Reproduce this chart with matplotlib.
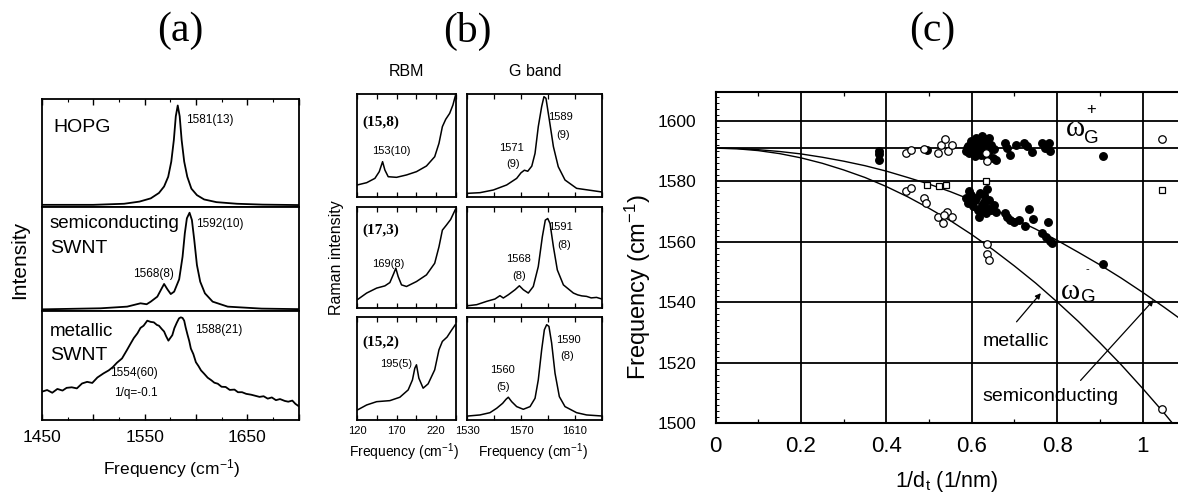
import matplotlib
matplotlib.use('Agg')
import matplotlib.pyplot as plt
from matplotlib import font_manager
from matplotlib.ticker import FixedLocator, MultipleLocator

W, H = 1178, 492
plt.rcParams['font.family'] = ['Liberation Sans', 'DejaVu Sans']
plt.rcParams['mathtext.fontset'] = 'custom'
plt.rcParams['mathtext.rm'] = 'Liberation Sans'
plt.rcParams['mathtext.it'] = 'Liberation Sans:italic'
plt.rcParams['mathtext.bf'] = 'Liberation Sans:bold'

_names = {f.name for f in font_manager.fontManager.ttflist}
NARROW = 'Liberation Sans Narrow' if 'Liberation Sans Narrow' in _names else 'Liberation Sans'
SERIF = 'Liberation Serif'

# ---------------- data: panel (a) ----------------
hopg_freq = [1450, 1500, 1530, 1545, 1556, 1564, 1569, 1573, 1576, 1578.5, 1580.4, 1582.3,
             1584.2, 1586.1, 1588.6, 1591.6, 1595.6, 1601, 1608, 1620, 1640, 1665, 1700]
hopg_int = [0.02, 0.02, 0.03, 0.05, 0.08, 0.13, 0.19, 0.28, 0.42, 0.62, 0.84, 0.94,
            0.84, 0.62, 0.42, 0.28, 0.17, 0.11, 0.07, 0.045, 0.03, 0.022, 0.018]

semi_freq = [1450, 1507, 1533, 1546, 1552, 1556, 1562.4, 1566.7, 1569, 1572.2, 1575.5, 1578.8,
             1583.7, 1587, 1589.2, 1591.2, 1593.8, 1596.1, 1598.4, 1601, 1604.2, 1608.8,
             1616.3, 1631, 1664, 1700]
semi_int = [0.016, 0.026, 0.042, 0.074, 0.065, 0.09, 0.138, 0.218, 0.26, 0.209, 0.163, 0.186,
            0.305, 0.522, 0.747, 0.891, 0.945, 0.875, 0.683, 0.442, 0.282, 0.17,
            0.09, 0.042, 0.023, 0.018]

metal_freq = [1450, 1455, 1460, 1465, 1470, 1474, 1479, 1484, 1489, 1494, 1499, 1504, 1510,
              1515, 1519, 1523, 1528, 1533, 1536, 1539.5, 1543, 1546, 1549, 1552.6, 1556,
              1559, 1562, 1564, 1567, 1569, 1571, 1573.2, 1575, 1577, 1579, 1581.4, 1583.5,
              1585.3, 1587, 1588.6, 1590, 1591.9, 1593.5, 1595.1, 1597.5, 1600, 1602.5, 1605,
              1608, 1611.5, 1615, 1618, 1621.3, 1625, 1629, 1633, 1637.6, 1641, 1645, 1649,
              1653.9, 1658, 1662, 1666, 1670, 1674, 1678, 1682, 1686.6, 1690, 1694, 1697, 1700]
metal_int = [0.26, 0.275, 0.25, 0.285, 0.27, 0.295, 0.30, 0.29, 0.335, 0.35, 0.34, 0.39, 0.428,
             0.455, 0.485, 0.525, 0.565, 0.645, 0.695, 0.752, 0.795, 0.845, 0.865, 0.911, 0.9,
             0.896, 0.872, 0.865, 0.832, 0.812, 0.768, 0.728, 0.752, 0.778, 0.842, 0.893, 0.932,
             0.942, 0.936, 0.911, 0.85, 0.78, 0.725, 0.655, 0.605, 0.53, 0.495, 0.455,
             0.425, 0.388, 0.365, 0.342, 0.333, 0.305, 0.303, 0.276, 0.279, 0.255, 0.255, 0.24,
             0.232, 0.222, 0.212, 0.218, 0.196, 0.207, 0.182, 0.192, 0.175, 0.168, 0.178, 0.148, 0.128]

# ---------------- data: panel (b) ----------------
rbm1_freq = [120.4, 132.2, 142.6, 148.1, 152.3, 155.2, 159.4, 169.9, 182.5, 195.1, 207.7, 218.1,
             223.5, 227.8, 232, 237, 241.1, 244.1]
rbm1_int = [0.117, 0.139, 0.181, 0.246, 0.343, 0.262, 0.197, 0.191, 0.214, 0.246, 0.301, 0.391,
            0.521, 0.683, 0.754, 0.812, 0.893, 0.98]
rbm2_freq = [120.4, 132.2, 144.8, 155.2, 161.5, 166.5, 169, 172, 176.2, 182.5, 195.1, 207.7,
             218.1, 223.5, 227.8, 232.8, 238.2, 244.1]
rbm2_int = [0.082, 0.148, 0.197, 0.219, 0.252, 0.344, 0.394, 0.311, 0.229, 0.213, 0.262, 0.328,
            0.443, 0.606, 0.771, 0.82, 0.876, 0.974]
rbm3_freq = [120.4, 132.2, 144.8, 161.5, 174.1, 184.6, 190, 193, 195.1, 198.1, 203.5, 209.8,
             218.1, 223.5, 227.8, 233.7, 239.2, 244.1]
rbm3_int = [0.097, 0.146, 0.178, 0.188, 0.221, 0.292, 0.389, 0.503, 0.536, 0.406, 0.309, 0.351,
            0.487, 0.682, 0.763, 0.805, 0.87, 0.925]

g1_freq = [1531, 1539.6, 1549.5, 1559.4, 1566.8, 1570, 1572.5, 1575, 1578, 1580.4, 1582.8,
           1585.3, 1587, 1588.5, 1591, 1594, 1597.6, 1602.6, 1611.2, 1629.8]
g1_int = [0.036, 0.042, 0.068, 0.117, 0.181, 0.235, 0.26, 0.25, 0.30, 0.424, 0.683,
          0.877, 0.974, 0.958, 0.748, 0.489, 0.294, 0.165, 0.084, 0.049]
g2_freq = [1531, 1537.2, 1544.6, 1550.7, 1554.4, 1556.9, 1560.6, 1565.6, 1568.8, 1571.7, 1575.4,
           1579.1, 1582.8, 1585.8, 1588, 1589.8, 1591.5, 1594, 1596.9, 1601.4, 1608.8, 1612,
           1615, 1618.6, 1622, 1626, 1629.8]
g2_int = [0.023, 0.033, 0.066, 0.089, 0.122, 0.099, 0.131, 0.181, 0.22, 0.181, 0.148,
          0.213, 0.41, 0.705, 0.87, 0.886, 0.837, 0.607, 0.377, 0.229, 0.148, 0.13,
          0.12, 0.115, 0.10, 0.105, 0.089]
g3_freq = [1531, 1539.6, 1547, 1552, 1556.4, 1558.9, 1560.6, 1563.1, 1566.8, 1571.7, 1576.7,
           1580.4, 1582.8, 1585.3, 1587.3, 1589, 1590.7, 1592.7, 1595.2, 1598.4, 1602.6, 1611.2,
           1618.6, 1629.8]
g3_int = [0.039, 0.049, 0.071, 0.114, 0.162, 0.201, 0.221, 0.178, 0.13, 0.104, 0.13,
          0.211, 0.389, 0.681, 0.876, 0.925, 0.909, 0.747, 0.454, 0.227, 0.13, 0.071,
          0.049, 0.039]

# ---------------- data: panel (c) ----------------
inv_d = [0.0, 0.05, 0.1, 0.15, 0.2, 0.25, 0.3, 0.35, 0.4, 0.45, 0.5, 0.55, 0.6, 0.65, 0.7,
         0.75, 0.8, 0.85, 0.9, 0.95, 1.0, 1.05, 1.1]
semi_curve = [1591, 1590.9, 1590.5, 1589.9, 1589.1, 1588.0, 1586.7, 1585.2, 1583.4, 1581.3,
              1579.1, 1576.6, 1573.8, 1570.8, 1567.6, 1564.2, 1560.5, 1556.5, 1552.4, 1548.0,
              1543.3, 1538.4, 1533.3]
metal_curve = [1591, 1590.8, 1590.2, 1589.2, 1587.8, 1586.0, 1583.8, 1581.3, 1578.3, 1574.9,
               1571.1, 1567.0, 1562.4, 1557.4, 1552.0, 1546.3, 1540.1, 1533.6, 1526.6, 1519.3,
               1511.5, 1503.4, 1494.8]
wG_plus = 1591

filled_x = [0.382, 0.382, 0.382, 0.495,
            0.586, 0.592, 0.598, 0.604, 0.610, 0.614, 0.620, 0.625, 0.628, 0.633, 0.637, 0.641,
            0.645, 0.649, 0.652, 0.656, 0.607, 0.621, 0.594, 0.602, 0.629, 0.638, 0.617, 0.590,
            0.600, 0.615, 0.630, 0.640, 0.625,
            0.677, 0.683, 0.690, 0.703, 0.722, 0.730, 0.742, 0.765, 0.771, 0.781, 0.784, 0.908,
            0.586, 0.592, 0.598, 0.602, 0.607, 0.614, 0.620, 0.623, 0.628, 0.633, 0.637, 0.641,
            0.646, 0.652, 0.656, 0.594, 0.617, 0.629, 0.610, 0.600, 0.625, 0.635,
            0.677, 0.683, 0.690, 0.699, 0.711, 0.724, 0.734, 0.744, 0.765, 0.773, 0.778, 0.783,
            0.788, 0.908]
filled_y = [1590.2, 1589.0, 1587.0, 1590.5,
            1590.0, 1591.7, 1593.3, 1590.6, 1594.4, 1589.4, 1592.8, 1595.0, 1591.1, 1588.3, 1593.9, 1590.0,
            1592.2, 1587.8, 1590.6, 1587.2, 1588.3, 1588.9, 1589.4, 1592.2, 1593.3, 1591.7, 1591.1, 1591.0,
            1590.0, 1593.0, 1590.0, 1594.5, 1589.5,
            1592.8, 1591.1, 1588.9, 1592.2, 1592.6, 1591.7, 1589.7, 1592.8, 1591.1, 1592.6, 1590.0, 1588.3,
            1574.4, 1572.8, 1575.6, 1571.7, 1573.9, 1570.6, 1576.1, 1572.2, 1573.3, 1569.4, 1571.1, 1573.9,
            1570.6, 1572.2, 1570.0, 1576.7, 1568.3, 1575.6, 1574.5, 1573.5, 1570.5, 1577.5,
            1569.4, 1568.3, 1567.2, 1566.7, 1567.2, 1565.2, 1570.8, 1567.4, 1562.8, 1561.7, 1566.7, 1560.3,
            1559.7, 1552.8]
open_x = [0.447, 0.458, 0.489, 0.522, 0.527, 0.538, 0.544, 0.555, 0.633, 0.635, 1.045,
          0.447, 0.458, 0.489, 0.493, 0.522, 0.532, 0.542, 0.555, 0.535, 0.635, 0.637, 0.641, 1.045]
open_y = [1589.4, 1590.3, 1590.8, 1589.4, 1592.0, 1594.2, 1590.0, 1591.9, 1589.4, 1586.7, 1593.9,
          1576.7, 1577.8, 1574.4, 1572.8, 1568.1, 1566.1, 1570.0, 1568.1, 1569.0, 1559.2, 1556.1, 1554.1, 1504.8]
square_x = [0.496, 0.524, 0.540, 0.633, 1.045]
square_y = [1578.9, 1578.6, 1578.9, 1580.2, 1577.0]


def box(l, t, r, b):
    return [l / W, 1 - b / H, (r - l) / W, (b - t) / H]


def fx(x):
    return x / W


def fy(y):
    return 1 - y / H


fig = plt.figure(figsize=(W / 100, H / 100), dpi=100)
fig.patch.set_facecolor('white')

SPW = 1.3

# ======================= panel (a) =======================
a_left, a_right = 42, 298.5
a_rows = [(99, 207), (207, 311), (311, 420)]
a_data = [(hopg_freq, hopg_int), (semi_freq, semi_int), (metal_freq, metal_int)]
a_axes = []
for i, ((t, b), (fr, it)) in enumerate(zip(a_rows, a_data)):
    ax = fig.add_axes(box(a_left, t, a_right, b))
    ax.plot(fr, it, color='black', lw=1.3)
    ax.set_xlim(1450, 1700)
    ax.set_ylim(0, 1)
    ax.set_yticks([])
    for s in ax.spines.values():
        s.set_linewidth(SPW)
    ax.xaxis.set_major_locator(FixedLocator([1450, 1500, 1550, 1600, 1650, 1700]))
    ax.xaxis.set_minor_locator(MultipleLocator(25))
    ax.tick_params(axis='x', which='major', direction='in', length=4, width=1)
    ax.tick_params(axis='x', which='minor', direction='in', length=2.5, width=0.8)
    if i == 0:
        ax.tick_params(axis='x', which='both', top=True, bottom=False, labelbottom=False)
    elif i == 1:
        ax.tick_params(axis='x', which='both', top=False, bottom=False, labelbottom=False)
    else:
        ax.tick_params(axis='x', which='both', top=False, bottom=True, labelbottom=True,
                       labelsize=12.5, pad=7)
        ax.set_xticklabels(['1450', '', '1550', '', '1650', ''])
    a_axes.append(ax)

ax1, ax2, ax3 = a_axes
ax1.text(0.045, 0.74, 'HOPG', transform=ax1.transAxes, fontsize=14, ha='left', va='center')
ax1.text(0.56, 0.81, '1581(13)', transform=ax1.transAxes, fontsize=8.5, ha='left', va='center')
ax2.text(0.03, 0.84, 'semiconducting', transform=ax2.transAxes, fontsize=13.5, ha='left', va='center')
ax2.text(0.03, 0.60, 'SWNT', transform=ax2.transAxes, fontsize=14, ha='left', va='center')
ax2.text(0.60, 0.84, '1592(10)', transform=ax2.transAxes, fontsize=8.5, ha='left', va='center')
ax2.text(0.355, 0.36, '1568(8)', transform=ax2.transAxes, fontsize=8.5, ha='left', va='center')
ax3.text(0.03, 0.81, 'metallic', transform=ax3.transAxes, fontsize=13.5, ha='left', va='center')
ax3.text(0.03, 0.595, 'SWNT', transform=ax3.transAxes, fontsize=14, ha='left', va='center')
ax3.text(0.595, 0.83, '1588(21)', transform=ax3.transAxes, fontsize=8.5, ha='left', va='center')
ax3.text(0.265, 0.43, '1554(60)', transform=ax3.transAxes, fontsize=8.5, ha='left', va='center')
ax3.text(0.28, 0.245, '1/q=-0.1', transform=ax3.transAxes, fontsize=8.5, ha='left', va='center')

fig.text(fx(20), fy(260), 'Intensity', rotation=90, fontsize=15, ha='center', va='center')
fig.text(fx(172), fy(469), 'Frequency (cm$^{-1}$)', fontsize=12.5, ha='center', va='center')
fig.text(fx(180), fy(31), '(a)', fontsize=30, family=SERIF, ha='center', va='center')

# ======================= panel (b) =======================
b_cols = [(357, 456), (467, 602)]
b_rows = [(94, 197), (207, 308), (317, 420)]
rbm_data = [(rbm1_freq, rbm1_int), (rbm2_freq, rbm2_int), (rbm3_freq, rbm3_int)]
g_data = [(g1_freq, g1_int), (g2_freq, g2_int), (g3_freq, g3_int)]
chir = ['(15,8)', '(17,3)', '(15,2)']
chir_y = [0.73, 0.77, 0.75]
rbm_lbl = [('153(10)', 0.35, 0.45), ('169(8)', 0.32, 0.44), ('195(5)', 0.40, 0.54)]
g_lbl = [[('1589', 0.69, 0.78), ('(9)', 0.71, 0.60), ('1571', 0.33, 0.48), ('(9)', 0.34, 0.32)],
         [('1591', 0.69, 0.80), ('(8)', 0.72, 0.62), ('1568', 0.385, 0.49), ('(8)', 0.385, 0.32)],
         [('1590', 0.75, 0.78), ('(8)', 0.74, 0.62), ('1560', 0.26, 0.49), ('(5)', 0.27, 0.32)]]

for r, (t, b) in enumerate(b_rows):
    for c, (l, rr) in enumerate(b_cols):
        ax = fig.add_axes(box(l, t, rr, b))
        if c == 0:
            fr, it = rbm_data[r]
            ax.set_xlim(120, 245)
            ax.xaxis.set_major_locator(FixedLocator([120, 170, 220]))
            ax.xaxis.set_minor_locator(FixedLocator([145, 195, 245]))
        else:
            fr, it = g_data[r]
            ax.set_xlim(1530, 1630)
            ax.xaxis.set_major_locator(FixedLocator([1530, 1570, 1610]))
            ax.xaxis.set_minor_locator(FixedLocator([1550, 1590, 1630]))
        ax.plot(fr, it, color='black', lw=1.1)
        ax.set_ylim(0, 1)
        ax.set_yticks([])
        for s in ax.spines.values():
            s.set_linewidth(SPW)
        ax.tick_params(axis='x', which='both', direction='in', top=True, bottom=True,
                       width=0.9)
        ax.tick_params(axis='x', which='major', length=3.5)
        ax.tick_params(axis='x', which='minor', length=3.5)
        if r == 2:
            ax.tick_params(axis='x', labelsize=8, pad=4)
            for lab in ax.get_xticklabels():
                lab.set_family(NARROW)
        else:
            ax.tick_params(axis='x', labelbottom=False)
        if c == 0:
            ax.text(0.05, chir_y[r], chir[r], transform=ax.transAxes, family=SERIF,
                    fontweight='bold', fontsize=11, ha='left', va='center')
            txt, xx, yy = rbm_lbl[r]
            ax.text(xx, yy, txt, transform=ax.transAxes, family=NARROW, fontsize=8,
                    ha='center', va='center')
        else:
            for txt, xx, yy in g_lbl[r]:
                ax.text(xx, yy, txt, transform=ax.transAxes, family=NARROW, fontsize=8,
                        ha='center', va='center')

fig.text(fx(406), fy(72), 'RBM', family=NARROW, fontsize=11.5, ha='center', va='center')
fig.text(fx(535), fy(72), 'G band', family=NARROW, fontsize=11.5, ha='center', va='center')
fig.text(fx(336), fy(258), 'Raman intensity', rotation=90, family=NARROW, fontsize=11.5,
         ha='center', va='center')
fig.text(fx(404), fy(452), 'Frequency (cm$^{-1}$)', family=NARROW, fontsize=10, ha='center', va='center')
fig.text(fx(533), fy(452), 'Frequency (cm$^{-1}$)', family=NARROW, fontsize=10, ha='center', va='center')
fig.text(fx(467), fy(31), '(b)', fontsize=30, family=SERIF, ha='center', va='center')

# ======================= panel (c) =======================
c_left, c_top, c_bottom = 715.5, 92, 423
px_per_unit = 427.0
c_xmax = 1.12
cax = fig.add_axes(box(c_left, c_top, c_left + c_xmax * px_per_unit, c_bottom))
cax.set_xlim(0, c_xmax)
cax.set_ylim(1500, 1609.6)
cax.set_xticks([0, 0.2, 0.4, 0.6, 0.8, 1.0])
cax.set_xticklabels(['0', '0.2', '0.4', '0.6', '0.8', '1'])
cax.set_yticks([1500, 1520, 1540, 1560, 1580, 1600])
cax.xaxis.set_minor_locator(MultipleLocator(0.1))
cax.yaxis.set_minor_locator(MultipleLocator(2))
cax.grid(True, which='major', color='black', lw=1.3)
cax.axhline(wG_plus, color='black', lw=1.3, zorder=1)
cax.set_axisbelow(True)
cax.tick_params(axis='both', which='major', direction='in', length=0)
cax.tick_params(axis='x', which='minor', direction='in', length=3, width=0.9, top=True, bottom=True)
cax.tick_params(axis='y', which='minor', direction='in', length=2.5, width=0.7, left=True, right=False)
cax.tick_params(axis='x', labelsize=16, pad=9)
cax.tick_params(axis='y', labelsize=12.5, pad=14)
for s in ['left', 'bottom', 'top']:
    cax.spines[s].set_linewidth(1.5)
cax.spines['right'].set_visible(False)

cax.plot(inv_d, semi_curve, color='black', lw=1.0, zorder=3)
cax.plot(inv_d, metal_curve, color='black', lw=1.0, zorder=3)
cax.plot(filled_x, filled_y, 'o', ms=5.4, color='black', mec='black', zorder=4)
cax.plot(open_x, open_y, 'o', ms=5.4, mfc='white', mec='black', mew=0.9, zorder=5)
cax.plot(square_x, square_y, 's', ms=4.8, mfc='white', mec='black', mew=0.9, zorder=5)

cax.text(0.842, 1597.5, 'ω', family=SERIF, fontsize=21, ha='center', va='center', zorder=6)
cax.text(0.880, 1594.3, 'G', fontsize=13.5, ha='center', va='center', zorder=6)
cax.text(0.879, 1603.8, '+', fontsize=12, ha='center', va='center', zorder=6)
cax.text(0.832, 1543.5, 'ω', family=SERIF, fontsize=21, ha='center', va='center', zorder=6)
cax.text(0.874, 1541.5, 'G', fontsize=13.5, ha='center', va='center', zorder=6)
cax.text(0.872, 1550.8, '-', fontsize=8, ha='center', va='center', zorder=6)

cax.text(0.703, 1527, 'metallic', fontsize=14, ha='center', va='center', zorder=6,
         bbox=dict(facecolor='white', edgecolor='none', pad=0.5))
cax.annotate('', xy=(0.762, 1543.0), xytext=(0.705, 1533.5),
             arrowprops=dict(arrowstyle='-|>', color='black', lw=0.9,
                             mutation_scale=8, shrinkA=0, shrinkB=0), zorder=6)
cax.text(0.785, 1508.7, 'semiconducting', fontsize=14, ha='center', va='center', zorder=6)
cax.annotate('', xy=(1.026, 1540.7), xytext=(0.855, 1514.1),
             arrowprops=dict(arrowstyle='-|>', color='black', lw=0.9,
                             mutation_scale=8, shrinkA=0, shrinkB=0), zorder=6)

fig.text(fx(638), fy(287), 'Frequency (cm$^{-1}$)', rotation=90, fontsize=17,
         ha='center', va='center')
fig.text(fx(947), fy(481), '1/d$_\\mathrm{t}$ (1/nm)', fontsize=15.5, ha='center', va='center')
fig.text(fx(932), fy(31), '(c)', fontsize=30, family=SERIF, ha='center', va='center')

fig.savefig('out.png', dpi=100, facecolor='white')
